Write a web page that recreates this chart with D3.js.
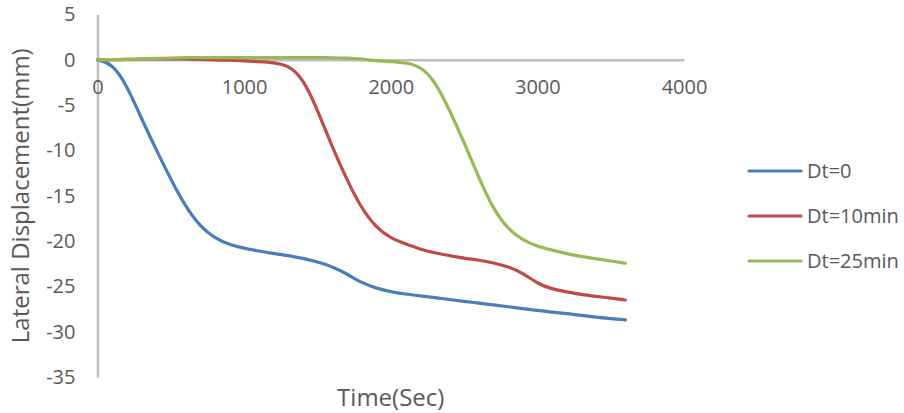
<!DOCTYPE html>
<html><head><meta charset="utf-8">
<script src="https://cdn.jsdelivr.net/npm/d3@7"></script>
<style>body{margin:0;background:#fff}svg{display:block}text{font-family:"Open Sans",sans-serif;fill:#595959}</style>
</head><body><svg id="c" width="904" height="413"></svg>
<script>
const times = [0,100,200,300,400,500,600,700,800,900,1000,1100,1200,1300,1400,1500,1600,1700,1800,1900,2000,2100,2200,2300,2400,2500,2600,2700,2800,2900,3000,3100,3200,3300,3400,3500,3600];
const dt0 = [0,-0.4,-2.8,-6.5,-9.9,-13.2,-16.2,-18.4,-19.7,-20.4,-20.8,-21.1,-21.35,-21.6,-21.9,-22.3,-22.8,-23.6,-24.6,-25.2,-25.6,-25.85,-26.05,-26.25,-26.45,-26.65,-26.85,-27.05,-27.25,-27.45,-27.65,-27.85,-28.0,-28.2,-28.4,-28.55,-28.7];
const dt10 = [0,0,0.05,0.1,0.1,0.1,0.1,0.05,0,-0.05,-0.1,-0.2,-0.3,-0.6,-2.0,-5.5,-9.6,-13.2,-16.4,-18.5,-19.7,-20.3,-20.9,-21.3,-21.6,-21.9,-22.1,-22.4,-22.8,-23.5,-24.7,-25.3,-25.6,-25.9,-26.1,-26.3,-26.5];
const dt25 = [0,0.02,0.05,0.1,0.15,0.2,0.25,0.25,0.25,0.25,0.25,0.25,0.25,0.25,0.25,0.25,0.22,0.2,0.1,-0.1,-0.2,-0.3,-0.7,-2.3,-5.5,-9.1,-13.0,-16.5,-18.7,-19.9,-20.6,-21.0,-21.4,-21.7,-21.95,-22.2,-22.45];
const seriesNames = ["Dt=0","Dt=10min","Dt=25min"];
const colors = ["#4a7ebb","#be4b48","#98b954"];
const xTicks = [0,1000,2000,3000,4000];
const yTicks = [5,0,-5,-10,-15,-20,-25,-30,-35];

const svg = d3.select("#c");
const x = d3.scaleLinear().domain([0,4000]).range([97.5,684]);
const y = d3.scaleLinear().domain([-35,5]).range([377,14.5]);

// y axis
const yAxis = svg.append("g").attr("transform",`translate(${x(0)},0)`)
  .call(d3.axisLeft(y).tickValues(yTicks).tickFormat(d=>String(d)).tickSize(0).tickPadding(22));
yAxis.select(".domain").attr("stroke","#bfbfbf").attr("stroke-width",2.5);
yAxis.selectAll("text").attr("font-size",20).attr("fill","#595959").style("font-family","'Open Sans',sans-serif");

// x axis at y=0
const xAxis = svg.append("g").attr("transform",`translate(0,${y(0)})`)
  .call(d3.axisBottom(x).tickValues(xTicks).tickFormat(d=>String(d)).tickSize(0).tickPadding(20));
xAxis.select(".domain").attr("stroke","#bfbfbf").attr("stroke-width",2.5);
xAxis.selectAll("text").attr("font-size",20).attr("fill","#595959").style("font-family","'Open Sans',sans-serif");

const all = [dt0,dt10,dt25];
const line = d3.line().x((d,i)=>x(times[i])).y(d=>y(d)).curve(d3.curveBasis);
all.forEach((s,k)=>{
  svg.append("path").datum(s).attr("d",line).attr("fill","none")
    .attr("stroke",colors[k]).attr("stroke-width",3.2).attr("stroke-linecap","round");
});

// legend
seriesNames.forEach((n,k)=>{
  const ly = 171 + k*45;
  svg.append("line").attr("x1",749).attr("x2",801).attr("y1",ly).attr("y2",ly)
    .attr("stroke",colors[k]).attr("stroke-width",3.2).attr("stroke-linecap","round");
  svg.append("text").attr("x",807).attr("y",ly+7).attr("font-size",20).text(n);
});

// axis titles
svg.append("text").attr("x",x(2000)).attr("y",406).attr("text-anchor","middle").attr("font-size",24).text("Time(Sec)");
svg.append("text").attr("transform",`translate(29,${(y(5)+y(-35))/2}) rotate(-90)`).attr("text-anchor","middle").attr("font-size",24).text("Lateral Displacement(mm)");
</script></body></html>
